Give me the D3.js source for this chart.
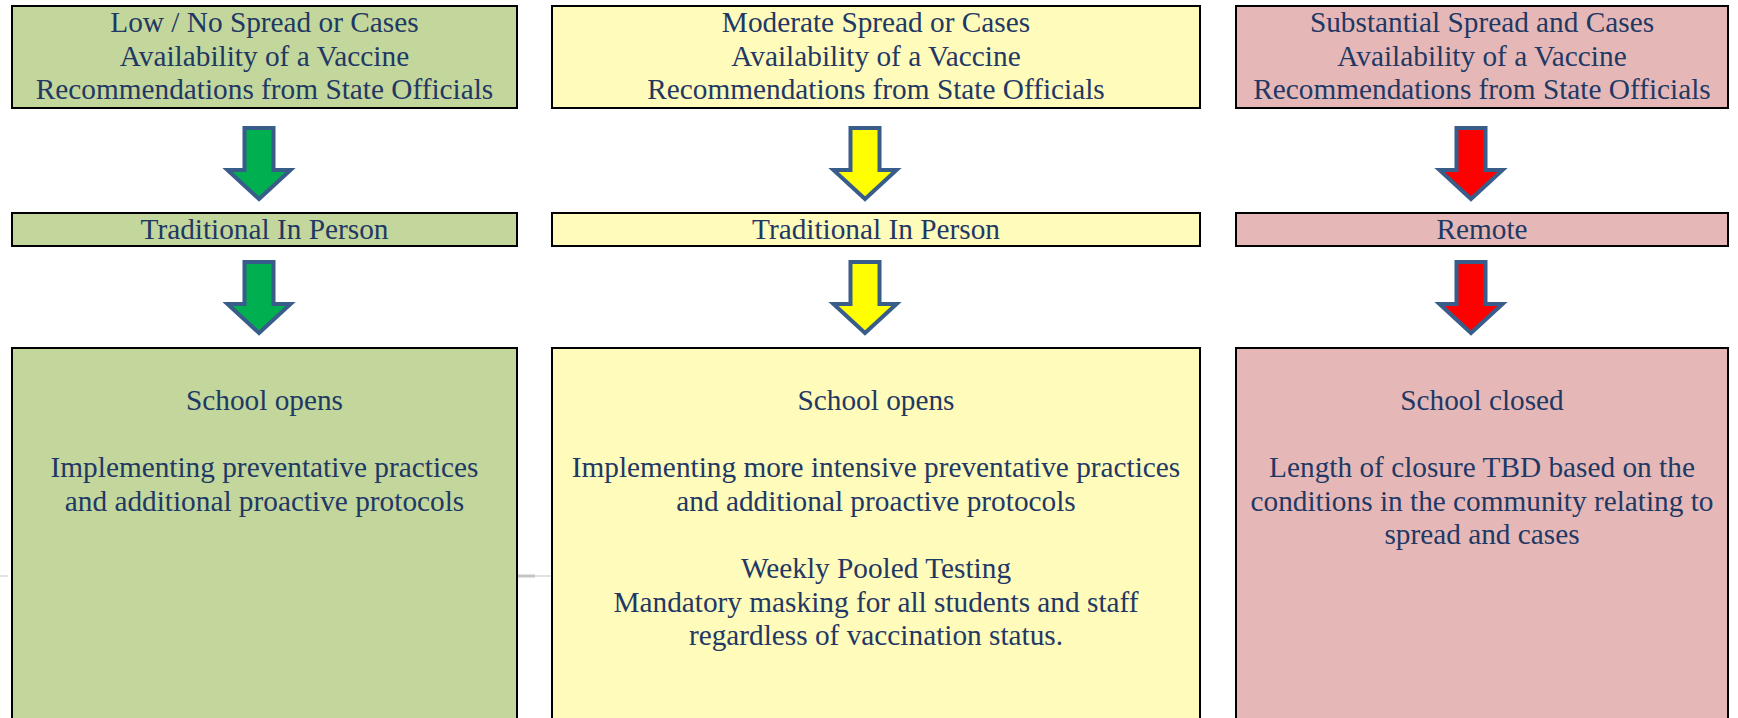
<!DOCTYPE html>
<html>
<head>
<meta charset="utf-8">
<script src="https://cdn.jsdelivr.net/npm/d3@7"></script>
<style>
  html, body { margin: 0; padding: 0; background: #ffffff; }
  svg { display: block; }
</style>
</head>
<body>
<svg id="chart" width="1738" height="718"></svg>
<script>
// ---- data ----
const levels = ["Low / No Spread", "Moderate Spread", "Substantial Spread"];
const conditionLines = [
  ["Low / No Spread or Cases", "Availability of a Vaccine", "Recommendations from State Officials"],
  ["Moderate Spread or Cases", "Availability of a Vaccine", "Recommendations from State Officials"],
  ["Substantial Spread and Cases", "Availability of a Vaccine", "Recommendations from State Officials"]
];
const modeLabels = ["Traditional In Person", "Traditional In Person", "Remote"];
const outcomeLines = [
  ["School opens", "", "Implementing preventative practices", "and additional proactive protocols"],
  ["School opens", "", "Implementing more intensive preventative practices", "and additional proactive protocols", "",
   "Weekly Pooled Testing", "Mandatory masking for all students and staff", "regardless of vaccination status."],
  ["School closed", "", "Length of closure TBD based on the", "conditions in the community relating to", "spread and cases"]
];
const boxColors = ["#C3D69B", "#FFFBBB", "#E5B8B7"];
const arrowColors = ["#00B050", "#FFFF00", "#FF0000"];

// ---- layout ----
const svg = d3.select("#chart");
const colX0 = d3.scaleOrdinal().domain(levels).range([12, 552, 1236]);
const colX1 = d3.scaleOrdinal().domain(levels).range([517, 1200, 1728]);
const arrowCx = d3.scaleOrdinal().domain(levels).range([259, 865, 1471]);
const lineH = 33.6;
const textColor = "#1F3864";
const fontSize = 29.3;

// faint page-break line artifact
svg.append("line").attr("x1", 0).attr("x2", 8).attr("y1", 576).attr("y2", 576)
  .attr("stroke", "#e4e4e4").attr("stroke-width", 2);
svg.append("line").attr("x1", 517).attr("x2", 535).attr("y1", 576).attr("y2", 576)
  .attr("stroke", "#c4c4c4").attr("stroke-width", 3);
svg.append("line").attr("x1", 535).attr("x2", 552).attr("y1", 576).attr("y2", 576)
  .attr("stroke", "#e2e2e2").attr("stroke-width", 2);

function box(level, i, y0, y1, lines, firstBaseline) {
  const g = svg.append("g");
  g.append("rect")
    .attr("x", colX0(level)).attr("y", y0)
    .attr("width", colX1(level) - colX0(level)).attr("height", y1 - y0)
    .attr("fill", boxColors[i]).attr("stroke", "#000").attr("stroke-width", 2);
  const cx = (colX0(level) + colX1(level)) / 2;
  const rows = lines.map((t, k) => ({ t, k })).filter(d => d.t !== "");
  g.selectAll("text").data(rows).join("text")
    .attr("x", cx)
    .attr("y", d => firstBaseline + d.k * lineH)
    .attr("text-anchor", "middle")
    .style("font-family", '"Liberation Serif", serif')
    .style("font-size", fontSize + "px")
    .attr("fill", textColor)
    .text(d => d.t);
}

function arrow(level, i, top) {
  const cx = arrowCx(level);
  const sw = 14.5, hw = 31.5;
  const p = d3.path();
  p.moveTo(cx - sw, top + 2);
  p.lineTo(cx + sw, top + 2);
  p.lineTo(cx + sw, top + 44);
  p.lineTo(cx + hw, top + 44);
  p.lineTo(cx, top + 73);
  p.lineTo(cx - hw, top + 44);
  p.lineTo(cx - sw, top + 44);
  p.closePath();
  svg.append("path").attr("d", p.toString())
    .attr("fill", arrowColors[i]).attr("stroke", "#385D8A")
    .attr("stroke-width", 4).attr("stroke-linejoin", "miter");
}

levels.forEach((lv, i) => {
  box(lv, i, 6, 108, conditionLines[i], 32);
  arrow(lv, i, 126);
  box(lv, i, 213, 246, [modeLabels[i]], 239);
  arrow(lv, i, 260);
  box(lv, i, 348, 740, outcomeLines[i], 410);
});
</script>
</body>
</html>
